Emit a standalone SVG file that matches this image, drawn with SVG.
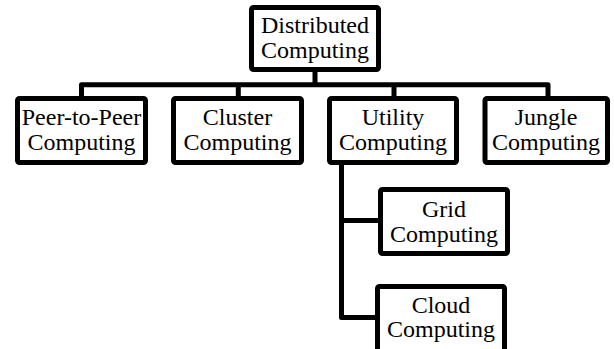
<svg xmlns="http://www.w3.org/2000/svg" width="614" height="349" viewBox="0 0 614 349">
<style>
.box{fill:#fff;stroke:#000;stroke-width:5;stroke-linejoin:round}
.wire{fill:none;stroke:#000;stroke-width:5;stroke-linejoin:round;stroke-linecap:butt}
text{font-family:"Liberation Serif","Times New Roman",serif;font-size:24px;fill:#000;text-anchor:middle}
</style>
<rect width="614" height="349" fill="#fff"/>
<g id="connectors">
<path class="wire" d="M315,71 V84.7"/>
<path class="wire" d="M81.5,97 V84.7 H548 V97"/>
<path class="wire" d="M238.3,84.7 V97"/>
<path class="wire" d="M394,84.7 V97"/>
<path class="wire" d="M341.5,163 V317.5 H377"/>
<path class="wire" d="M341.5,220.5 H380"/>
</g>
<g id="distributed">
<rect class="box" x="251.5" y="7.5" width="127" height="62" rx="2"/>
<text x="315" y="33">Distributed</text>
<text x="315" y="58">Computing</text>
</g>
<g id="peer">
<rect class="box" x="17.5" y="98.5" width="128" height="64" rx="2"/>
<text x="81.5" y="125">Peer-to-Peer</text>
<text x="81.5" y="150">Computing</text>
</g>
<g id="cluster">
<rect class="box" x="173.5" y="98.5" width="128" height="64" rx="2"/>
<text x="237.5" y="125">Cluster</text>
<text x="237.5" y="150">Computing</text>
</g>
<g id="utility">
<rect class="box" x="329.5" y="98.5" width="127" height="64" rx="2"/>
<text x="393" y="125">Utility</text>
<text x="393" y="150">Computing</text>
</g>
<g id="jungle">
<rect class="box" x="485" y="98.5" width="122.5" height="64" rx="2"/>
<text x="546" y="125">Jungle</text>
<text x="546" y="150">Computing</text>
</g>
<g id="grid">
<rect class="box" x="380.5" y="189.5" width="127" height="64" rx="2"/>
<text x="444" y="216.5">Grid</text>
<text x="444" y="241.5">Computing</text>
</g>
<g id="cloud">
<rect class="box" x="377.5" y="286.5" width="127" height="66" rx="2"/>
<text x="441" y="313">Cloud</text>
<text x="441" y="337">Computing</text>
</g>
</svg>
